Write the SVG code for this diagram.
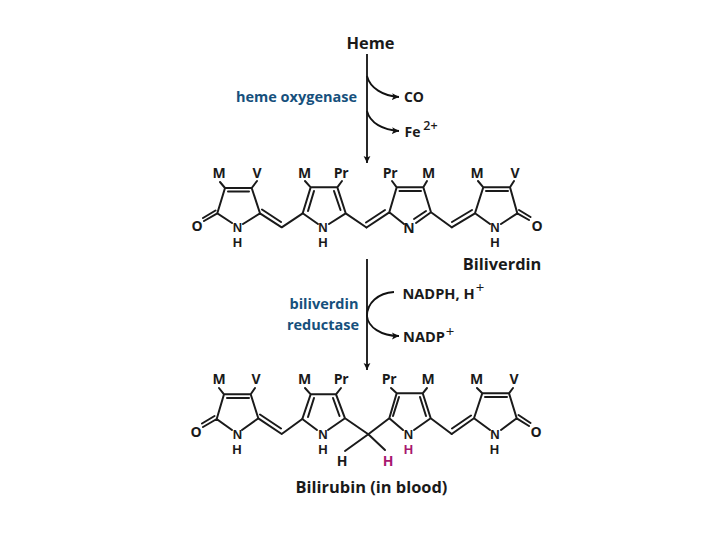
<svg xmlns="http://www.w3.org/2000/svg" width="720" height="540" viewBox="0 0 720 540">
<style>
text{font-family:"Open Sans","Noto Sans","Liberation Sans",sans-serif;font-weight:700;fill:#1a1a1a;text-anchor:middle}
.a{font-size:14px}.t{font-size:16.400px}.m{font-size:14px;letter-spacing:-.2px}.n{font-size:14.600px}
.e{fill:#16507c;font-size:14.500px}.p{fill:#a8186f}.s{font-size:12.500px;font-weight:600}.q{font-size:15px;font-weight:400}
.l{font-family:"Liberation Sans",sans-serif;font-size:13px}
.b{fill:none;stroke:#1a1a1a;stroke-width:2;stroke-linecap:round}
.ar{fill:none;stroke:#111;stroke-width:1.800}
</style>
<defs>
<marker id="h" markerUnits="userSpaceOnUse" markerWidth="8" markerHeight="8" refX="7" refY="4" orient="auto"><path d="M0 .6L7 4L0 7.400L1.600 4Z" fill="#111"/></marker>
</defs>
<g id="connectors">
<path class="ar" d="M367 54V163" marker-end="url(#h)"/>
<path class="ar" d="M367 76C370 88 383 96 399 97" marker-end="url(#h)"/>
<path class="ar" d="M367 111C370 123 383 130 399 131" marker-end="url(#h)"/>
<path class="ar" d="M367 259V370" marker-end="url(#h)"/>
<path class="ar" d="M394 292C378 293 367 303 367 316C368 327 381 336 399 336" marker-end="url(#h)"/>
</g>
<g id="heme"><text class="t" x="370.500" y="49">Heme</text></g>
<g id="heme-oxygenase"><text class="e" x="296.500" y="102">heme oxygenase</text></g>
<g id="co"><text class="a" x="414" y="102">CO</text></g>
<g id="fe"><text class="a" x="412.500" y="137">Fe</text><text class="s" x="430.500" y="130">2+</text></g>
<g id="biliverdin-enzyme"><text class="e" x="324" y="309">biliverdin</text><text class="e" x="323" y="330">reductase</text></g>
<g id="nadph"><text class="n" x="438.500" y="299">NADPH, H</text><text class="q" x="480" y="293">+</text></g>
<g id="nadp"><text class="n" x="424" y="342">NADP</text><text class="q" x="450" y="337">+</text></g>
<g id="biliverdin">
<path class="b" d="M225 188L217.300 213.300L232 223M251.700 188L260 213.300L243 224M225 188H251.700M228 191.500H249M225 188L220 182M251.700 188L257 181M217.300 213.300L204 221M215.500 210.500L203 218M260 213.300L281.700 227.300M262 209.500L281 222M281.700 227.300L302.700 213.300"/>
<path class="b" d="M302.700 213.300L310.700 187.300H337.300L345.700 213.300M308 211L314 191M340.500 210L334 191M302.700 213.300L318 224M345.700 213.300L329 224M310.700 187.300L305 181M337.300 187.300L342 181M345.700 213.300L366.500 227.500"/>
<path class="b" d="M366.500 227.500L389.300 212.300M366 222.500L385 210M389.300 212.300L396.700 187.300H423.300L431 212.300M399.500 191H421M389.300 212.300L404 224M431 212.300L416 223M426 211L414 219M396.700 187.300L392 181M423.300 187.300L427 181M431 212.300L451.700 227.300"/>
<path class="b" d="M451.700 227.300L475 213.300M452 222L472 210M475 213.300L483.300 187.300H510L517.300 213.300M486 191H508M475 213.300L490 224M517.300 213.300L501 224M483.300 187.300L478 181M510 187.300L514 181M517.300 213.300L529 220M519 210L530.500 217"/>
<text class="a" x="219" y="178">M</text><text class="a" x="257" y="178">V</text>
<text class="a" x="304.500" y="178">M</text><text class="m" x="341" y="178">Pr</text>
<text class="m" x="390" y="178">Pr</text><text class="a" x="428.500" y="178">M</text>
<text class="a" x="477" y="178">M</text><text class="a" x="515" y="178">V</text>
<text class="a" x="197" y="231">O</text><text class="a" x="537" y="231">O</text>
<text class="l" x="237.500" y="232">N</text><text class="l" x="237.500" y="247">H</text>
<text class="l" x="323" y="232">N</text><text class="l" x="323" y="247">H</text>
<text class="a" x="409" y="233">N</text>
<text class="l" x="495" y="232">N</text><text class="l" x="495" y="247">H</text>
<text class="t" x="502" y="270">Biliverdin</text>
</g>
<g id="bilirubin">
<path class="b" d="M224 394.300L216.700 419L232 430M250.700 394.300L258.300 418.300L242 430M224 394.300H250.700M227 398H249M224 394.300L219 388M250.700 394.300L255 388M216.700 419L203 427M214.500 416L202 423.500M258.300 418.300L281.700 434M260 414.500L281 428.500M281.700 434L302.300 419"/>
<path class="b" d="M302.300 419L310.700 394.300H336L345 418.300M308 417L314 398M339.500 416L333 398M302.300 419L317 430M345 418.300L328 430M310.700 394.300L305 388M336 394.300L341 388M345 418.300L368.300 434.300"/>
<path class="b" d="M368.300 434.300L389.300 418.300M389.300 418.300L396.700 393.300H422.700L430.700 418.300M393 416L399 397M426 416L420 397M389.300 418.300L403 430M430.700 418.300L414 430M396.700 393.300L391 388M422.700 393.300L427 388M430.700 418.300L451.700 434M368.300 434.300L345 451M368.300 434.300L385 450"/>
<path class="b" d="M451.700 434L474 418.300M452 428.500L471 415.500M474 418.300L482.300 393.300H509L516.700 418.300M485 397H507M474 418.300L490 430M516.700 418.300L501 430M482.300 393.300L477 388M509 393.300L513 388M516.700 418.300L529 426M518.500 415L530.500 423"/>
<text class="a" x="219" y="384">M</text><text class="a" x="256" y="384">V</text>
<text class="a" x="304.500" y="384">M</text><text class="m" x="341" y="384">Pr</text>
<text class="m" x="389" y="384">Pr</text><text class="a" x="428" y="384">M</text>
<text class="a" x="476.500" y="384">M</text><text class="a" x="514" y="384">V</text>
<text class="a" x="196" y="437">O</text><text class="a" x="536" y="437">O</text>
<text class="l" x="237.500" y="438.500">N</text><text class="l" x="237" y="453.500">H</text>
<text class="l" x="323" y="438.500">N</text><text class="l" x="323" y="453.500">H</text>
<text class="l" x="408.500" y="438.500">N</text><text class="l p" x="408.500" y="453.500">H</text>
<text class="l" x="495" y="438.500">N</text><text class="l" x="494.500" y="453.500">H</text>
<text class="a" x="342" y="466">H</text><text class="a p" x="388" y="466">H</text>
<text class="t" x="371.500" y="493">Bilirubin (in blood)</text>
</g>
</svg>
